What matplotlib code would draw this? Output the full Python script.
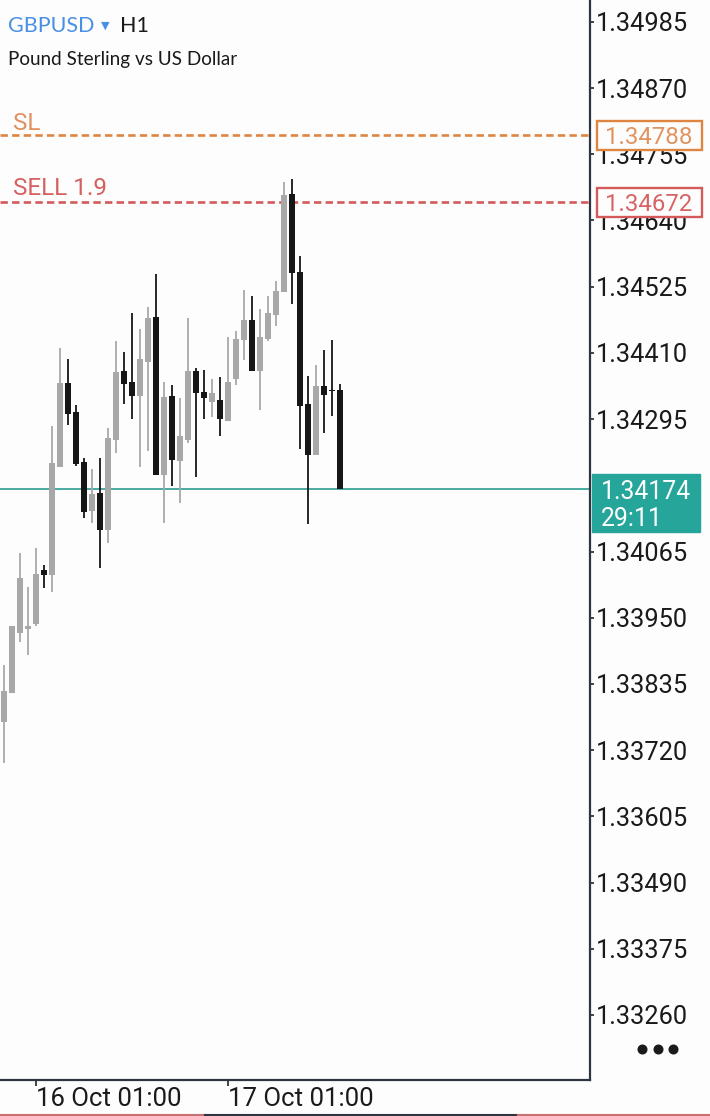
import numpy as np
import pandas as pd
import matplotlib.pyplot as plt
from matplotlib.lines import Line2D

# GBPUSD H1 candles
opens = [1.33768, 1.33820, 1.33923, 1.33930, 1.33939, 1.34033, 1.34024, 1.34212, 1.34358, 1.34308,
         1.34221, 1.34136, 1.34167, 1.34103, 1.34259, 1.34379, 1.34360, 1.34335, 1.34395, 1.34473,
         1.34198, 1.34336, 1.34223, 1.34259, 1.34378, 1.34342, 1.34324, 1.34328, 1.34292, 1.34365,
         1.34433, 1.34467, 1.34379, 1.34434, 1.34476, 1.34515, 1.34686, 1.34550, 1.34321, 1.34233,
         1.34353, 1.34346, 1.34346]
highs = [1.33868, 1.33936, 1.34062, 1.34003, 1.34071, 1.34042, 1.34283, 1.34419, 1.34400, 1.34320,
         1.34227, 1.34208, 1.34228, 1.34280, 1.34430, 1.34412, 1.34480, 1.34452, 1.34489, 1.34547,
         1.34360, 1.34354, 1.34331, 1.34470, 1.34383, 1.34380, 1.34365, 1.34368, 1.34438, 1.34448,
         1.34519, 1.34509, 1.34486, 1.34508, 1.34535, 1.34707, 1.34712, 1.34578, 1.34370, 1.34389,
         1.34415, 1.34433, 1.34356]
lows = [1.33698, 1.33819, 1.33907, 1.33885, 1.33936, 1.34002, 1.33994, 1.34212, 1.34285, 1.34214,
        1.34124, 1.34115, 1.34037, 1.34080, 1.34236, 1.34321, 1.34295, 1.34212, 1.34239, 1.34198,
        1.34114, 1.34179, 1.34150, 1.34254, 1.34195, 1.34295, 1.34299, 1.34266, 1.34292, 1.34355,
        1.34398, 1.34379, 1.34310, 1.34431, 1.34457, 1.34515, 1.34495, 1.34243, 1.34113, 1.34233,
        1.34271, 1.34301, 1.34174]
closes = [1.33823, 1.33935, 1.34019, 1.33936, 1.34026, 1.34024, 1.34218, 1.34358, 1.34304, 1.34217,
          1.34133, 1.34165, 1.34103, 1.34262, 1.34376, 1.34356, 1.34335, 1.34400, 1.34471, 1.34198,
          1.34334, 1.34224, 1.34265, 1.34379, 1.34340, 1.34332, 1.34341, 1.34295, 1.34360, 1.34434,
          1.34467, 1.34379, 1.34438, 1.34479, 1.34518, 1.34684, 1.34549, 1.34318, 1.34233, 1.34353,
          1.34337, 1.34343, 1.34174]

times = pd.date_range("2025-10-15 21:00", periods=len(opens), freq="h")

sl_price = 1.34788
sell_price = 1.34672
sell_label = "SELL 1.9"
last_price = 1.34174
countdown = "29:11"

y_ticks = [1.34985, 1.34870, 1.34755, 1.34640, 1.34525, 1.34410, 1.34295,
           1.34065, 1.33950, 1.33835, 1.33720, 1.33605, 1.33490, 1.33375, 1.33260]

W, H = 710, 1116
BG = "#fdfdfd"
fig = plt.figure(figsize=(W / 100, H / 100), dpi=100)
fig.patch.set_facecolor(BG)
ax = fig.add_axes([0, 36 / H, 590 / W, 1080 / H])
ax.set_facecolor(BG)

up_col, dn_col = "#a8a8a8", "#161616"
x = np.arange(len(opens))
o, h, l, c = map(np.array, (opens, highs, lows, closes))
cols = np.where(c > o, up_col, dn_col)
ax.vlines(x, l, h, colors=cols, linewidth=1.3, zorder=3)
body_h = np.maximum(np.abs(c - o), 0.000025)
ax.bar(x, body_h, bottom=np.minimum(o, c), width=0.72, color=cols, zorder=3, linewidth=0)

# trade levels
sl_col, sell_col, teal = "#df8540", "#d45a5a", "#26a69a"
ax.axhline(sl_price, color=sl_col, linewidth=1.9, linestyle=(0, (2.8, 1.6)), zorder=2)
ax.axhline(sell_price, color=sell_col, linewidth=1.9, linestyle=(0, (2.8, 1.6)), zorder=2)
ax.axhline(last_price, color="#2a9d92", linewidth=1.2, zorder=2)
ytr = ax.get_yaxis_transform()
ax.text(0.022, sl_price + 0.00021, "SL", color="#df9060", fontsize=17.5,
        family="Roboto", transform=ytr, va="center")
ax.text(0.022, sell_price + 0.00023, sell_label, color="#d66060", fontsize=17.5,
        family="Roboto", transform=ytr, va="center")

ax.set_xlim(-0.5, 73.25)
ax.set_ylim(1.33147, 1.35023)

ax.yaxis.tick_right()
ax.set_yticks(y_ticks)
ax.set_yticklabels([f"{v:.5f}" for v in y_ticks])
mask = (times.hour == 1) & (times.minute == 0)
ax.set_xticks(x[mask])
ax.set_xticklabels(times[mask].strftime("%d Oct %H:%M"), ha="left")
ax.tick_params(axis="y", length=3, width=1.3, pad=1.5, labelsize=18.3, colors="#2f3540",
               labelcolor="#1a1a1a")
ax.tick_params(axis="x", length=4, width=1.3, pad=1, labelsize=18.5, colors="#2f3540",
               labelcolor="#1a1a1a")
for lab in ax.get_xticklabels() + ax.get_yticklabels():
    lab.set_family("Roboto")
for s in ("left", "top"):
    ax.spines[s].set_visible(False)
for s in ("right", "bottom"):
    ax.spines[s].set_color("#2f3540")
    ax.spines[s].set_linewidth(1.6)


# price boxes on the scale
def fy(p):
    return ax.transData.transform((0, p))[1] / H


def price_box(price, edge, txt_col):
    yc = fy(price)
    fig.patches.append(plt.Rectangle((597 / W, yc - 14.5 / H), 105 / W, 29 / H,
                                     transform=fig.transFigure, fc=BG, ec=edge, lw=1.7, zorder=9))
    fig.text(605 / W, yc, f"{price:.5f}", color=txt_col, fontsize=17.3, family="Roboto",
             va="center_baseline", ha="left", zorder=10)


price_box(sl_price, sl_col, "#e0935e")
price_box(sell_price, sell_col, "#d76464")

fig.patches.append(plt.Rectangle((592 / W, 1 - 532 / H), 108 / W, 58 / H, transform=fig.transFigure,
                                 color=teal, zorder=9))
fig.text(601 / W, 1 - 489 / H, f"{last_price:.5f}", color="white", fontsize=17.8, family="Roboto",
         va="center_baseline", ha="left", zorder=10)
fig.text(601 / W, 1 - 517 / H, countdown, color="white", fontsize=17.8, family="Roboto",
         va="center_baseline", ha="left", zorder=10)

# header
fig.text(8 / W, 1 - 26 / H, "GBPUSD", color="#4a90e2", fontsize=15.5, family="Lato",
         va="center", ha="left")
fig.text(101 / W, 1 - 26 / H, "▼", color="#4a90e2", fontsize=8, family="DejaVu Sans",
         va="center", ha="left")
fig.text(120 / W, 1 - 26 / H, "H1", color="#1a1a1a", fontsize=15.5, family="Lato",
         va="center", ha="left")
fig.text(8 / W, 1 - 59 / H, "Pound Sterling vs US Dollar", color="#1a1a1a", fontsize=13.6,
         family="Lato", va="center", ha="left")

# menu dots and bottom strip
fig.lines.append(Line2D(np.array([642, 657.5, 673]) / W, [1 - 1049 / H] * 3, transform=fig.transFigure,
                        linestyle="none", marker="o", markersize=6.2, color="#1a1a1a"))
for x0, x1, col in [(0, 205, "#c97070"), (205, 518, "#2f3540"), (518, 710, "#c97070")]:
    fig.lines.append(Line2D([x0 / W, x1 / W], [1 / H, 1 / H], transform=fig.transFigure,
                            color=col, linewidth=1.5))

fig.savefig("out.png", dpi=100, facecolor=fig.get_facecolor())
